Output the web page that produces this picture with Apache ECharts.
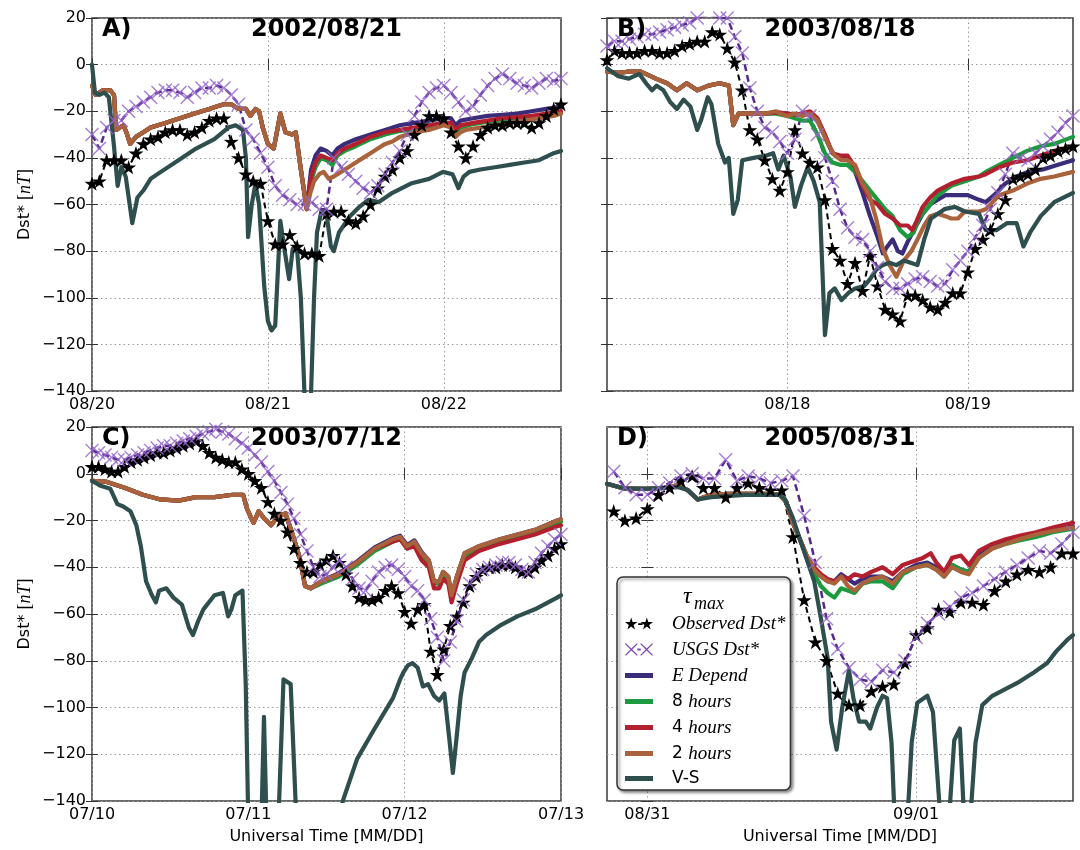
<!DOCTYPE html>
<html><head><meta charset="utf-8">
<script src="https://cdn.jsdelivr.net/npm/echarts@6/dist/echarts.min.js"></script>
<style>html,body{margin:0;padding:0;background:#fff}#c{width:1080px;height:850px}</style>
</head><body><div id="c"></div>
<script>
// ---------------- Panel A : 2002/08/21 (hours from 08/20 00:00) ----------------
const ticksA = [0, 24, 48];
const tickLabelsA = ['08/20', '08/21', '08/22'];
const obsA = [-51,-50,-41,-41,-41,-44,-38,-34,-32,-31,-29,-28,-28,-30,-29,-27,-24,-23,-23,-33,-40,-47,-50,-51,-67,-77,-77,-73,-78,-81,-81,-82,-64,-63,-63,-67,-68,-65,-60,-53,-48,-45,-40,-37,-30,-26,-22,-22,-23,-29,-35,-40,-35,-30,-27,-26,-26,-25,-25,-25,-27,-25,-22,-19,-17];
const usgsA = [-30,-36,-27,-24,-24,-20,-18,-16,-14,-12,-11,-11,-12,-14,-12,-10,-10,-9,-10,-13,-17,-28,-32,-38,-44,-52,-56,-58,-60,-60,-59,-62,-62,-40,-44,-47,-50,-53,-55,-52,-47,-42,-37,-30,-22,-16,-12,-10,-9,-12,-16,-20,-18,-13,-9,-6,-4,-6,-8,-9,-10,-8,-6,-7,-6];
const modelA_common = [[0,-9],[0.5,-13],[1,-12],[1.5,-11],[2.5,-11],[3,-13],[3.3,-28],[3.8,-27],[4.3,-26],[4.8,-30],[5.2,-34],[6,-31],[7,-29],[8,-27],[10,-25],[12,-23],[14,-21],[16,-19],[17,-18],[18,-17],[19,-17],[20,-19],[21,-19],[21.6,-22],[22.3,-19],[22.8,-20],[23.3,-27],[24,-34],[24.8,-36],[25.7,-21],[26.4,-29],[27.3,-30],[27.8,-29],[28.5,-45],[29.3,-62]];
const edA_tail = [[29.9,-45],[30.5,-39],[31.2,-36],[32,-37],[32.8,-39],[33.5,-36],[34.5,-34],[36,-32],[38,-30],[40,-28],[42,-26],[44,-25],[46,-24],[48,-23],[49,-23],[49.6,-26],[50.3,-24],[52,-23],[54,-22],[56,-21.5],[58,-21],[60,-20],[62,-19],[64,-18]];
const g8A_tail = [[29.9,-50],[30.5,-44],[31.2,-40],[32,-41],[32.8,-43],[33.5,-39],[34.5,-37],[36,-35],[38,-32],[40,-30],[42,-28.5],[44,-27.5],[46,-26.5],[48,-25.5],[49,-26],[49.6,-29],[50.3,-27],[52,-25.5],[54,-24.5],[56,-24],[58,-23],[60,-22.5],[62,-21.5],[64,-20.5]];
const r4A_tail = [[29.9,-48],[30.5,-42],[31.2,-39],[32,-40],[32.8,-41],[33.5,-38],[34.5,-36],[36,-34],[38,-31],[40,-29],[42,-28],[44,-27],[46,-26],[48,-25],[49,-25],[49.6,-28],[50.3,-26],[52,-25],[54,-24],[56,-23],[58,-22.5],[60,-22],[62,-21],[64,-20]];
const b2A_tail = [[29.8,-55],[30.3,-50],[31,-47],[31.6,-46],[32.3,-49],[33,-48],[34,-46],[35,-44],[36,-42],[37,-40],[38,-38],[39,-36],[40,-34],[41,-33],[42,-31],[43,-30],[44,-29],[46,-28],[48,-26],[49,-27],[49.6,-31],[50.3,-29],[51,-28],[53,-27],[55,-26],[57,-25],[59,-24],[61,-23],[63,-22],[64,-21]];
const vsA = [[0,0],[0.4,-12],[1,-13],[1.7,-12],[2.3,-14],[3,-35],[3.5,-52],[4,-44],[4.6,-48],[5.5,-68],[6.2,-57],[7,-54],[8,-49],[9.4,-46],[11.8,-41],[14.2,-36],[16.7,-32],[18.6,-27],[19.6,-26],[20.6,-28],[21,-40],[21.3,-74],[21.8,-60],[22.3,-51],[22.8,-60],[23.5,-95],[24,-110],[24.5,-114],[25,-112],[25.7,-67],[26.3,-80],[26.9,-92],[27.4,-79],[28,-80],[28.5,-100],[29.1,-150],[29.8,-150],[30.3,-100],[30.7,-72],[31.3,-63],[32,-64],[32.6,-78],[33,-80],[33.7,-72],[35.2,-65],[36.5,-61],[37.7,-58],[39.1,-59],[41,-55],[43.5,-51],[46,-49],[47.9,-46],[49.2,-47],[50,-53],[50.7,-48],[51.5,-46],[53,-45],[55,-44],[57,-43],[59,-42],[61,-41],[63,-38],[64,-37]];

// ---------------- Panel B : 2003/08/18 (hours from 08/17 00:00) ----------------
const ticksB = [24, 48];
const tickLabelsB = ['08/18', '08/19'];
const obsB = [2,6,5,5,5,6,6,5,5,6,8,9,10,10,14,13,7,1,-11,-28,-32,-41,-49,-54,-46,-28,-38,-42,-44,-58,-79,-84,-94,-85,-97,-82,-95,-105,-107,-110,-99,-99,-101,-104,-105,-102,-98,-98,-89,-79,-75,-71,-64,-58,-49,-48,-47,-45,-40,-39,-37,-36,-35];
const usgsB = [8,10,10,11,12,13,13,14,15,16,17,18,20,21,21,20,20,12,5,-10,-20,-27,-29,-33,-38,-32,-20,-22,-30,-40,-50,-62,-70,-74,-75,-80,-87,-93,-96,-96,-94,-92,-91,-93,-95,-94,-88,-84,-80,-74,-69,-62,-55,-47,-38,-40,-41,-38,-35,-32,-29,-25,-22];
const modelB_common = [[0,-3],[1.5,-3.5],[3,-3],[4.5,-3],[5.5,-4.5],[6.5,-6],[8,-8],[9.3,-11],[10.6,-8],[12,-11],[13.5,-9],[15,-8],[16.2,-9],[16.8,-26],[17.5,-21],[19,-21]];
const edB_tail = [[21,-21],[22.5,-20.5],[24,-21],[25,-21.5],[26,-21],[27,-21],[28,-24],[29,-31],[30,-38],[31,-40],[32,-40],[33,-46],[34,-55],[35,-65],[36,-74],[36.7,-81],[37.3,-78],[38,-75],[38.7,-80],[39.3,-81],[40,-76],[41,-70],[42,-64],[43,-60],[44,-58],[45,-56],[46.5,-56],[48,-56],[49.5,-58],[50.4,-59],[51.5,-56],[53,-51],[54.5,-48],[56,-46],[58,-45],[60,-43],[62,-41]];
const g8B_tail = [[21,-21],[22.5,-21],[24,-22],[25,-23],[26,-24],[27,-24],[28,-30],[29,-38],[30,-42],[31,-43],[32,-43],[33,-46],[34,-50],[35,-54],[36,-58],[37,-62],[38,-65],[39,-71],[40,-74],[40.8,-72],[41.5,-66],[42.5,-62],[44,-56],[45.8,-52],[47.6,-50],[49.5,-48],[50.4,-46],[52.2,-43],[54,-40],[55.9,-37],[57.7,-35],[59.5,-34],[62,-31]];
const r4B_tail = [[21,-21],[22.5,-20.5],[24,-21],[25,-21.5],[26,-21],[27,-20],[28,-23],[29,-30],[30,-38],[31,-39],[32,-39],[33,-44],[34,-52],[35,-58],[36,-60],[37,-64],[38,-66],[39,-69],[40,-69],[40.6,-71],[41.2,-67],[42,-61],[43,-57],[44,-54],[45.8,-51],[47.6,-49],[49.5,-48],[50.4,-47],[52.2,-44],[54,-42],[55.9,-41],[57.7,-39],[59.5,-37],[62,-35]];
const b2B_tail = [[21,-21],[22.5,-20],[23,-21],[24,-22],[25,-21],[26,-22],[27,-21],[28,-24],[29.4,-34],[30.3,-39],[31.2,-41],[32,-41],[33,-43],[34,-51],[34.9,-56],[35.8,-66],[36.7,-79],[37.6,-86],[38.5,-91],[39.5,-84],[40.5,-80],[41.3,-75],[42.2,-69],[43,-65],[44,-64],[45,-65],[45.8,-66],[46.7,-66],[47.6,-63],[48.5,-63],[49.5,-63],[50.4,-62],[52.2,-56],[54,-54],[55.9,-51],[57.7,-49],[59.5,-48],[62,-46]];
const vsB = [[0,-1.5],[1.5,-5],[2.9,-6],[4.3,-4],[5.2,-8],[6,-11],[6.6,-9],[7.5,-11],[8.4,-16],[9.3,-19],[10.2,-15],[11.1,-18],[12,-28],[12.5,-24],[13.4,-14],[13.9,-17],[14.8,-34],[15.7,-42],[16.2,-40],[16.8,-64],[17.4,-58],[18,-41],[19.5,-40],[21.2,-39],[22.1,-38],[22.8,-45],[23.5,-39],[24.4,-48],[25,-61],[25.8,-52],[26.7,-44],[27.5,-50],[28.3,-59],[29,-116],[29.6,-98],[30.3,-96],[31.2,-101],[32.1,-98],[33,-96],[34.2,-95],[35,-92],[35.8,-88],[36.7,-86],[37.6,-85],[38.5,-86],[39.5,-84],[40.4,-85],[41.3,-86],[42.2,-75],[43.1,-66],[44.9,-62],[46.3,-61],[47.6,-63],[49.5,-64],[50.4,-71],[51.8,-71],[53.2,-68],[54.5,-68],[55.4,-78],[56.3,-72],[57.7,-65],[59.5,-59],[62,-55]];

// ---------------- Panel C : 2003/07/12 (hours from 07/10 00:00) ----------------
const ticksC = [0, 24, 48, 72];
const tickLabelsC = ['07/10', '07/11', '07/12', '07/13'];
const obsC = [3,3,2,1,1,3,5,6,7,8,9,9,10,11,12,13,14,12,9,7,6,5,5,2,0,-3,-6,-12,-17,-20,-25,-32,-38,-42,-42,-39,-37,-35,-38,-43,-48,-53,-54,-54,-53,-50,-48,-51,-59,-64,-58,-56,-76,-86,-75,-65,-61,-55,-48,-44,-41,-40,-40,-39,-39,-40,-42,-42,-40,-37,-35,-32,-30];
const usgsC = [10,9,8,7,6,6,7,8,9,10,11,12,12,13,14,15,16,17,18,19,18,17,15,13,11,8,5,1,-3,-8,-13,-19,-26,-33,-40,-44,-43,-40,-37,-40,-45,-49,-50,-46,-42,-40,-39,-41,-44,-48,-50,-54,-62,-70,-80,-72,-63,-54,-47,-43,-41,-40,-39,-38,-38,-39,-41,-42,-38,-34,-31,-28,-26];
const modelC_common = [[0,-3],[2.3,-3.5],[5,-6],[7.8,-9],[10.5,-11],[13.3,-11.5],[16,-10],[18.8,-10],[21.6,-9],[23.2,-9],[23.8,-15],[24.8,-21],[25.6,-16],[26.4,-19],[27.5,-22],[28.6,-18],[29.7,-17],[30.8,-26],[31.9,-36],[32.7,-48],[33.6,-49]];
const edC_tail = [[35.2,-46],[37.9,-42.5],[40.7,-37.5],[43.4,-31.5],[46.2,-27.5],[47.3,-26.5],[48.4,-30.5],[49.5,-28.5],[50.6,-33.5],[51.7,-37],[52.5,-46],[53.3,-46],[53.9,-42],[54.7,-44],[55.2,-52],[56,-44],[57.2,-34],[59.4,-31],[62.6,-28],[65.3,-26],[68,-24],[71.4,-20],[72,-19.5]];
const g8C_tail = [[35.2,-47],[37.9,-44],[40.7,-39],[43.4,-33],[46.2,-29],[47.3,-28],[48.4,-32],[49.5,-30],[50.6,-35],[51.7,-38],[52.5,-47],[53.3,-47],[53.9,-43],[54.7,-45],[55.2,-53],[56,-45],[57.2,-35],[59.4,-32],[62.6,-29],[65.3,-27],[68,-25],[71.4,-21],[72,-20.5]];
const r4C_tail = [[35.2,-46],[37.9,-43],[40.7,-38],[43.4,-32],[46.2,-29],[47.3,-28],[48.4,-32],[49.5,-31],[50.6,-37],[51.7,-40],[52.5,-49],[53.3,-49],[53.9,-45],[54.7,-47],[55.2,-55],[56,-47],[57.2,-37],[59.4,-33],[62.6,-30],[65.3,-28],[68,-26],[71.4,-22.5],[72,-22]];
const b2C_tail = [[35.2,-46],[37.9,-43],[40.7,-38],[43.4,-32],[46.2,-28],[47.3,-27],[48.4,-31],[49.5,-29],[50.6,-34],[51.7,-37],[52.5,-46],[53.3,-46],[53.9,-42],[54.7,-44],[55.2,-52],[56,-44],[57.2,-34],[59.4,-31],[62.6,-28],[65.3,-26],[68,-24],[71.4,-20],[72,-19.5]];
const vsC = [[0,-3],[1.2,-5],[2.8,-6.4],[3.9,-13],[4.8,-14],[5.9,-16],[6.8,-22],[7.5,-31],[8.3,-46],[9.2,-52],[9.8,-55],[10.3,-50],[11.4,-49],[12.5,-53],[13.8,-56],[14.9,-66],[15.5,-69],[16.3,-63],[17.1,-58],[18.8,-52],[20.1,-51],[20.9,-61],[21.4,-58],[22,-52],[23.1,-50],[23.6,-90],[24,-150],[26,-150],[26.4,-104],[26.8,-150],[28.6,-150],[29.4,-88],[30.5,-90],[31.4,-150],[38,-150],[38.5,-140],[40.7,-122],[43.4,-109],[46.2,-96],[47.3,-88],[47.8,-85],[48.5,-82],[49.2,-81],[50,-83],[50.8,-91],[51.6,-90],[52.5,-95],[53.3,-97],[54.1,-94],[54.8,-112],[55.4,-128],[56,-112],[56.6,-95],[57.2,-85],[58.3,-79],[59.4,-72],[60.5,-69],[62.6,-65],[65.3,-61],[68,-58],[71.4,-53],[72,-52]];

// ---------------- Panel D : 2005/08/31 (hours from 08/31 00:00) ----------------
const ticksD = [0, 24];
const tickLabelsD = ['08/31', '09/01'];
const obsD_start = -3;
const obsD = [-16,-20,-19,-15,-9,-6,-3,-1,-6,-6,-10,-6,-4,-6,-7,-7,-27,-54,-72,-80,-94,-99,-99,-93,-91,-90,-81,-69,-66,-58,-59,-55,-55,-56,-50,-46,-43,-41,-42,-40,-34,-34];
const usgsD = [1,-6,-9,-9,-6,-4,-1,0,-2,-2,6,-3,-1,-2,-4,-3,-1,-18,-38,-62,-75,-83,-88,-89,-84,-85,-80,-70,-64,-60,-57,-53,-51,-48,-45,-42,-39,-36,-33,-34,-30,-25];
const modelD_common = [[-3.6,-4.3],[-2,-6.4],[0,-6.5],[1.5,-6],[2.7,-5],[3.6,-7],[4.5,-11],[5.7,-9],[7.2,-8.6],[9,-8.6],[10.5,-8.6],[11.8,-9],[12.4,-12],[13,-21],[13.7,-29],[14.3,-36]];
const edD_tail = [[14.9,-41],[15.5,-44],[16.1,-46],[16.7,-46],[17.3,-43],[17.9,-45],[18.5,-47],[19.2,-45],[20,-44],[21,-44],[21.9,-46],[22.8,-42],[24,-39],[25,-38],[25.8,-40],[26.5,-43],[27.2,-39],[28,-41],[28.7,-42],[29.6,-35],[30.8,-31],[32,-29],[33.2,-27.5],[34.7,-26],[36.2,-24],[38,-22.5]];
const g8D_tail = [[14.9,-43],[15.5,-48],[16.1,-51],[16.7,-53],[17.3,-49],[17.9,-50],[18.5,-51],[19.2,-47],[20,-46],[21,-46],[21.9,-49],[22.8,-43],[24,-40],[25,-39],[25.8,-41],[26.5,-44],[27.2,-39],[28,-41],[28.7,-42],[29.6,-36],[30.8,-32],[32,-30],[33.2,-28.5],[34.7,-27],[36.2,-25],[38,-23.5]];
const r4D_tail = [[14.9,-40],[15.5,-43],[16.1,-45],[16.7,-46],[17.3,-44],[17.9,-45],[18.5,-43],[19.2,-44],[20,-42],[21,-40],[21.9,-43],[22.8,-39],[24,-37],[24.6,-36],[25.3,-34],[25.8,-38],[26.5,-42],[27.2,-36],[28,-35],[28.7,-39],[29.6,-33],[30.8,-30],[32,-28],[33.2,-26.5],[34.7,-25],[36.2,-23],[38,-21]];
const b2D_tail = [[14.9,-41],[15.5,-44],[16.1,-46],[16.7,-47],[17.3,-44],[17.9,-48],[18.5,-50],[19.2,-47],[20,-45],[21,-44],[21.9,-47],[22.8,-42],[24,-40],[25,-39],[25.8,-41],[26.5,-44],[27.2,-40],[28,-42],[28.7,-43],[29.6,-36],[30.8,-32],[32,-30],[33.2,-28],[34.7,-26],[36.2,-24.5],[38,-23]];
const vsD = [[-3.6,-4.3],[-2,-6.4],[0,-6.5],[2.7,-5.7],[3.6,-7],[4.5,-11],[5.7,-10],[8.7,-9],[11.8,-9],[12.3,-11],[13,-19],[13.9,-32],[14.9,-46],[15.5,-62],[16.1,-79],[16.4,-106],[16.9,-118],[17.4,-100],[18,-84],[18.4,-96],[18.9,-106],[19.5,-106],[19.9,-109],[20.5,-100],[21,-95],[21.4,-96],[21.8,-115],[22.1,-150],[23.2,-150],[23.6,-115],[24.1,-98],[25,-95],[25.5,-102],[26.2,-150],[26.9,-150],[27.4,-114],[27.9,-109],[28.3,-150],[28.8,-150],[29.3,-115],[29.9,-99],[30.8,-95],[32,-92],[33.2,-89],[34.5,-85],[35.7,-81],[36.5,-76],[37.5,-71],[38,-69]];

const panelTitles = ['2002/08/21', '2003/08/18', '2003/07/12', '2005/08/31'];
const panelLetters = ['A)', 'B)', 'C)', 'D)'];
const seriesNames = ['Observed Dst*', 'USGS Dst*', 'E Depend', '8 hours', '4 hours', '2 hours', 'V-S'];

// ---------------- build ----------------
const hourly = (start, vals) => vals.map((v, i) => [start + i, v]);
const STAR = 'path://M50,0L61.17,34.63L97.55,34.55L68.07,55.87L79.39,90.45L50,69L20.61,90.45L31.93,55.87L2.45,34.55L38.83,34.63Z';
const XMARK = 'path://M0,7L7,0L50,43L93,0L100,7L57,50L100,93L93,100L50,57L7,100L0,93L43,50Z';
const STAR2 = 'path://M50,0L61.17,34.63L97.55,34.55L68.07,55.87L79.39,90.45L50,69L20.61,90.45L31.93,55.87L2.45,34.55L38.83,34.63Z M170,0L181.17,34.63L217.55,34.55L188.07,55.87L199.39,90.45L170,69L140.61,90.45L151.93,55.87L122.45,34.55L158.83,34.63Z M103,44L137,44L137,56L103,56Z';
const XMARK2 = 'path://M0,7L7,0L50,43L93,0L100,7L57,50L100,93L93,100L50,57L7,100L0,93L43,50Z M120,7L127,0L170,43L213,0L220,7L177,50L220,93L213,100L170,57L127,100L120,93L163,50Z M96,42L124,42L124,58L96,58Z';
const LINEICON = 'path://M0,0L28,0L28,5L0,5Z';

const colors = { obs: '#000000', usgsLine: '#55288c', usgsMark: '#9566cc', ed: '#3a2c78', g8: '#1b9a3e', r4: '#b31f2e', b2: '#a9623b', vs: '#2f4f4f' };

const panels = [
  { grid: { left: 92, top: 18, width: 469, height: 373 }, xmin: 0, xmax: 64, ticks: ticksA, labels: tickLabelsA, left: true, bottom: false,
    obs: hourly(0, obsA), usgs: hourly(0, usgsA), ed: modelA_common.concat(edA_tail), g8: modelA_common.concat(g8A_tail), r4: modelA_common.concat(r4A_tail), b2: modelA_common.concat(b2A_tail), vs: vsA },
  { grid: { left: 607, top: 18, width: 466, height: 373 }, xmin: 0, xmax: 62, ticks: ticksB, labels: tickLabelsB, left: false, bottom: false,
    obs: hourly(0, obsB), usgs: hourly(0, usgsB), ed: modelB_common.concat(edB_tail), g8: modelB_common.concat(g8B_tail), r4: modelB_common.concat(r4B_tail), b2: modelB_common.concat(b2B_tail), vs: vsB },
  { grid: { left: 92, top: 427, width: 469, height: 374 }, xmin: 0, xmax: 72, ticks: ticksC, labels: tickLabelsC, left: true, bottom: true,
    obs: hourly(0, obsC), usgs: hourly(0, usgsC), ed: modelC_common.concat(edC_tail), g8: modelC_common.concat(g8C_tail), r4: modelC_common.concat(r4C_tail), b2: modelC_common.concat(b2C_tail), vs: vsC },
  { grid: { left: 607, top: 427, width: 466, height: 374 }, xmin: -3.6, xmax: 38, ticks: ticksD, labels: tickLabelsD, left: false, bottom: true,
    obs: hourly(obsD_start, obsD), usgs: hourly(obsD_start, usgsD), ed: modelD_common.concat(edD_tail), g8: modelD_common.concat(g8D_tail), r4: modelD_common.concat(r4D_tail), b2: modelD_common.concat(b2D_tail), vs: vsD }
];

const grids = [], xAxes = [], yAxes = [], series = [], graphics = [];
const tickFont = { fontFamily: 'DejaVu Sans', fontSize: 16, color: '#000' };
const gridLine = { show: true, lineStyle: { type: [1.5, 3], color: '#9a9a9a', width: 1 } };
const tickStyle = { show: true, inside: true, length: 6, lineStyle: { color: '#333', width: 1 } };

panels.forEach((p, i) => {
  grids.push(Object.assign({ show: true, borderColor: '#3a3a3a', borderWidth: 1.5, backgroundColor: '#fff', containLabel: false }, p.grid));
  xAxes.push({
    type: 'value', gridIndex: i, min: p.xmin, max: p.xmax, position: 'bottom',
    axisLine: { show: false },
    axisTick: Object.assign({ customValues: p.ticks }, tickStyle),
    axisLabel: Object.assign({ show: true, margin: 6, customValues: p.ticks, formatter: v => { const k = p.ticks.indexOf(v); return k >= 0 ? p.labels[k] : ''; } }, tickFont),
    splitLine: gridLine,
    name: p.bottom ? 'Universal Time [MM/DD]' : '', nameLocation: 'middle', nameGap: 28,
    nameTextStyle: { fontFamily: 'DejaVu Sans', fontSize: 16, color: '#000' }
  });
  yAxes.push({
    type: 'value', gridIndex: i, min: -140, max: 20, interval: 20, position: 'left',
    axisLine: { show: false },
    axisTick: tickStyle,
    axisLabel: Object.assign({ show: p.left, margin: 6, formatter: v => (v < 0 ? '\u2212' + Math.abs(v) : String(v)) }, tickFont),
    splitLine: gridLine,
    name: p.left ? '{a|Dst* }{c|[}{b|nT}{c|]}' : '', nameLocation: 'middle', nameGap: 58, nameRotate: 90,
    nameTextStyle: { fontFamily: 'DejaVu Sans', fontSize: 16, color: '#000',
      rich: { a: { fontFamily: 'DejaVu Sans', fontSize: 16 }, b: { fontFamily: 'Liberation Serif', fontStyle: 'italic', fontSize: 18 }, c: { fontFamily: 'Liberation Serif', fontSize: 18 } } }
  });
  const base = { xAxisIndex: i, yAxisIndex: i, type: 'line', animation: false, clip: true, emphasis: { disabled: true } };
  series.push(Object.assign({}, base, { name: seriesNames[0], data: p.obs, symbol: STAR, symbolSize: 15, symbolKeepAspect: true,
    itemStyle: { color: colors.obs, borderWidth: 0 }, lineStyle: { color: colors.obs, width: 2, type: [6, 4] } }));
  series.push(Object.assign({}, base, { name: seriesNames[1], data: p.usgs, symbol: XMARK, symbolSize: 14, symbolKeepAspect: true,
    itemStyle: { color: colors.usgsMark, borderWidth: 0, opacity: 0.85 }, lineStyle: { color: colors.usgsLine, width: 2.5, type: [7, 4] } }));
  [['ed', 2], ['g8', 3], ['r4', 4], ['b2', 5], ['vs', 6]].forEach(([k, n]) => {
    series.push(Object.assign({}, base, { name: seriesNames[n], data: p[k], symbol: 'none', showSymbol: false,
      itemStyle: { color: colors[k] }, lineStyle: { color: colors[k], width: 4.2, cap: 'round', join: 'round' } }));
  });
  const g = p.grid;
  graphics.push({ type: 'text', x: g.left + 10, y: g.top + 12, z: 100,
    style: { text: panelLetters[i], font: 'bold 24px "DejaVu Sans"', fill: '#000', align: 'left', verticalAlign: 'middle' } });
  graphics.push({ type: 'text', x: g.left + g.width / 2, y: g.top + 12, z: 100,
    style: { text: panelTitles[i], font: 'bold 24px "DejaVu Sans"', fill: '#000', align: 'center', verticalAlign: 'middle' } });
});

// mirrored tick marks on the top and right edges of each panel
panels.forEach((p, i) => {
  xAxes.push({ type: 'value', gridIndex: i, min: p.xmin, max: p.xmax, position: 'top',
    axisLine: { show: false }, axisTick: Object.assign({ customValues: p.ticks }, tickStyle),
    axisLabel: { show: false, customValues: p.ticks }, splitLine: { show: false } });
  yAxes.push({ type: 'value', gridIndex: i, min: -140, max: 20, interval: 20, position: 'right',
    axisLine: { show: false }, axisTick: tickStyle, axisLabel: { show: false }, splitLine: { show: false } });
});

// legend title tau_max
graphics.push({ type: 'text', x: 683, y: 597, z: 100, style: { text: '\u03c4', font: 'italic 24px "Liberation Serif"', fill: '#000', align: 'left', verticalAlign: 'middle' } });
graphics.push({ type: 'text', x: 694, y: 604, z: 100, style: { text: 'max', font: 'italic 18px "Liberation Serif"', fill: '#000', align: 'left', verticalAlign: 'middle' } });

const legendText = {
  'Observed Dst*': '{s| }{i|Observed Dst*}', 'USGS Dst*': '{s| }{i|USGS Dst*}', 'E Depend': '{s| }{i|E Depend}',
  '8 hours': '{s| }{r|8 }{i|hours}', '4 hours': '{s| }{r|4 }{i|hours}', '2 hours': '{s| }{r|2 }{i|hours}', 'V-S': '{s| }{r|V-S}'
};

const option = {
  backgroundColor: '#fff',
  animation: false,
  grid: grids, xAxis: xAxes, yAxis: yAxes, series: series,
  legend: {
    orient: 'vertical', left: 617, top: 577, z: 50,
    padding: [37, 5, 3, 8], itemWidth: 28, itemHeight: 14, itemGap: 7,
    backgroundColor: '#fff', borderColor: '#333', borderWidth: 1.5, borderRadius: 6,
    shadowColor: 'rgba(0,0,0,0.45)', shadowBlur: 3, shadowOffsetX: 2, shadowOffsetY: 2,
    selectedMode: false, symbolKeepAspect: true,
    data: [
      { name: seriesNames[0], icon: STAR2, itemStyle: { color: colors.obs, borderWidth: 0 } },
      { name: seriesNames[1], icon: XMARK2, itemStyle: { color: '#7a48b8', borderWidth: 0, opacity: 1 } },
      { name: seriesNames[2], icon: LINEICON, itemStyle: { color: colors.ed, borderWidth: 0 } },
      { name: seriesNames[3], icon: LINEICON, itemStyle: { color: colors.g8, borderWidth: 0 } },
      { name: seriesNames[4], icon: LINEICON, itemStyle: { color: colors.r4, borderWidth: 0 } },
      { name: seriesNames[5], icon: LINEICON, itemStyle: { color: colors.b2, borderWidth: 0 } },
      { name: seriesNames[6], icon: LINEICON, itemStyle: { color: colors.vs, borderWidth: 0 } }
    ],
    formatter: name => legendText[name] || name,
    textStyle: {
      fontFamily: 'Liberation Serif', fontStyle: 'italic', fontSize: 19, color: '#000', lineHeight: 14,
      rich: {
        s: { width: 14, fontSize: 14, lineHeight: 14 },
        i: { fontFamily: 'Liberation Serif', fontStyle: 'italic', fontSize: 19, color: '#000', lineHeight: 14 },
        r: { fontFamily: 'DejaVu Sans', fontStyle: 'normal', fontSize: 17, color: '#000', lineHeight: 14 }
      }
    }
  },
  graphic: graphics
};

const chart = echarts.init(document.getElementById('c'), null, { renderer: 'canvas' });
chart.setOption(option);
</script></body></html>
